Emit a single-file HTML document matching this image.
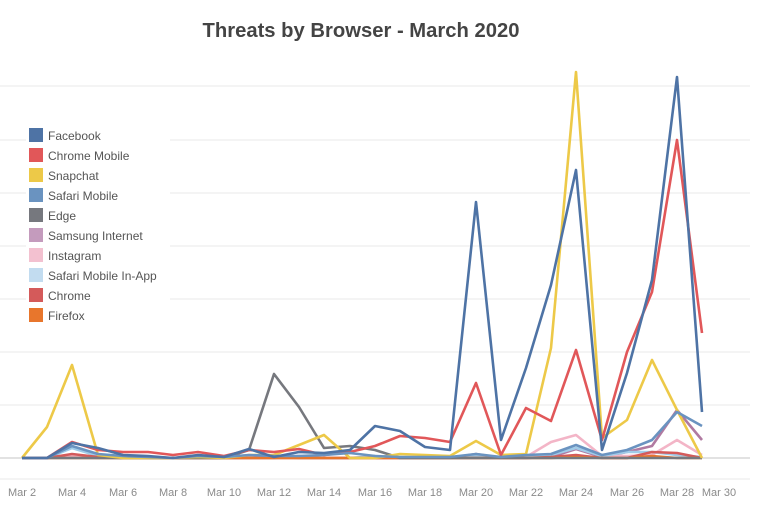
<!DOCTYPE html>
<html><head><meta charset="utf-8"><style>
html,body{margin:0;padding:0;background:#fff;}
svg{display:block;font-family:"Liberation Sans",sans-serif;}
</style></head><body>
<svg width="770" height="514" viewBox="0 0 770 514" xmlns="http://www.w3.org/2000/svg">
<rect width="770" height="514" fill="#fff"/>
<text x="361" y="37" text-anchor="middle" font-size="20" font-weight="bold" fill="#444" textLength="317" lengthAdjust="spacingAndGlyphs">Threats by Browser - March 2020</text>
<g stroke="#f0f0f0" stroke-width="1.5">
<line x1="0" x2="750" y1="86" y2="86"/><line x1="0" x2="750" y1="140" y2="140"/><line x1="0" x2="750" y1="193" y2="193"/><line x1="0" x2="750" y1="246" y2="246"/><line x1="0" x2="750" y1="299" y2="299"/><line x1="0" x2="750" y1="352" y2="352"/><line x1="0" x2="750" y1="405" y2="405"/><line x1="0" x2="750" y1="479" y2="479"/>
</g>
<line x1="0" x2="750" y1="458" y2="458" stroke="#d8d8d8" stroke-width="1.5"/>
<g fill="none" stroke-width="2.6" stroke-linejoin="round">
<polyline stroke="#b07aa1" points="22,458 47,458 72,455 98,457 123,458 148,458 173,458 198,458 224,458 249,458 274,457 299,458 324,458 350,458 375,458 400,458 425,458 450,458 476,454 501,458 526,458 551,457 576,449 602,457 627,452 652,446 677,410 702,440"/>
<polyline stroke="#f3b5c7" points="22,458 47,458 72,456 98,458 123,458 148,458 173,458 198,458 224,458 249,458 274,458 299,456 324,458 350,458 375,458 400,458 425,458 450,458 476,456 501,458 526,457 551,442 576,435 602,456 627,456 652,455 677,440 702,455"/>
<polyline stroke="#a0cbe8" points="22,458 47,458 72,448 98,456 123,458 148,458 173,458 198,458 224,458 249,458 274,458 299,456 324,458 350,458 375,456 400,458 425,458 450,458 476,456 501,458 526,457 551,455 576,448 602,456 627,452 652,452 677,455 702,457"/>
<polyline stroke="#d45a5a" points="22,458 47,458 72,454 98,457 123,458 148,458 173,458 198,458 224,458 249,458 274,458 299,458 324,458 350,458 375,458 400,458 425,458 450,458 476,458 501,458 526,458 551,457 576,455 602,458 627,458 652,452 677,453 702,458"/>
<polyline stroke="#e8762c" points="22,458 47,458 72,458 98,458 123,458 148,458 173,458 198,458 224,458 249,458 274,458 299,458 324,458 350,458 375,458 400,458 425,458 450,458 476,458 501,458 526,458 551,458 576,457 602,458 627,458 652,456 677,458 702,458"/>
<polyline stroke="#76787e" points="22,458 47,458 72,458 98,458 123,458 148,458 173,458 198,458 224,458 249,450 274,374 299,407 324,448 350,446 375,450 400,458 425,458 450,458 476,458 501,458 526,458 551,458 576,458 602,458 627,458 652,458 677,458 702,458"/>
<polyline stroke="#edc948" points="22,458 47,427 72,365 98,455 123,458 148,458 173,458 198,457 224,458 249,455 274,455 299,445 324,435 350,458 375,458 400,454 425,455 450,456 476,441 501,455 526,454 551,348 576,72 602,438 627,420 652,360 677,410 702,458"/>
<polyline stroke="#e15759" points="22,458 47,458 72,442 98,450 123,452 148,452 173,455 198,452 224,456 249,450 274,452 299,449 324,455 350,452 375,446 400,436 425,438 450,442 476,383 501,455 526,408 551,421 576,350 602,440 627,352 652,292 677,140 702,333"/>
<polyline stroke="#6a93c0" points="22,458 47,458 72,446 98,454 123,456 148,457 173,458 198,456 224,457 249,455 274,456 299,456 324,455 350,453 375,456 400,457 425,457 450,457 476,454 501,457 526,455 551,454 576,445 602,455 627,450 652,440 677,412 702,426"/>
<polyline stroke="#4e73a5" points="22,458 47,458 72,443 98,448 123,455 148,456 173,458 198,455 224,457 249,449 274,457 299,452 324,453 350,450 375,426 400,431 425,447 450,450 476,202 501,440 526,368 551,285 576,170 602,450 627,373 652,280 677,77 702,412"/>
</g>
<g font-size="11" fill="#8a8a8a" text-anchor="middle">
<text x="22" y="496">Mar 2</text><text x="72" y="496">Mar 4</text><text x="123" y="496">Mar 6</text><text x="173" y="496">Mar 8</text><text x="224" y="496">Mar 10</text><text x="274" y="496">Mar 12</text><text x="324" y="496">Mar 14</text><text x="375" y="496">Mar 16</text><text x="425" y="496">Mar 18</text><text x="476" y="496">Mar 20</text><text x="526" y="496">Mar 22</text><text x="576" y="496">Mar 24</text><text x="627" y="496">Mar 26</text><text x="677" y="496">Mar 28</text><text x="719" y="496">Mar 30</text>
</g>
<rect x="26" y="122" width="144" height="206" fill="#fff"/>
<g font-size="12" fill="#555">
<rect x="29" y="128" width="14" height="14" fill="#4e73a5"/><text x="48" y="140">Facebook</text>
<rect x="29" y="148" width="14" height="14" fill="#e15759"/><text x="48" y="160">Chrome Mobile</text>
<rect x="29" y="168" width="14" height="14" fill="#edc948"/><text x="48" y="180">Snapchat</text>
<rect x="29" y="188" width="14" height="14" fill="#6a93c0"/><text x="48" y="200">Safari Mobile</text>
<rect x="29" y="208" width="14" height="14" fill="#76787e"/><text x="48" y="220">Edge</text>
<rect x="29" y="228" width="14" height="14" fill="#c49bbd"/><text x="48" y="240">Samsung Internet</text>
<rect x="29" y="248" width="14" height="14" fill="#f3c1d0"/><text x="48" y="260">Instagram</text>
<rect x="29" y="268" width="14" height="14" fill="#c2dcf0"/><text x="48" y="280">Safari Mobile In-App</text>
<rect x="29" y="288" width="14" height="14" fill="#d45a5a"/><text x="48" y="300">Chrome</text>
<rect x="29" y="308" width="14" height="14" fill="#e8762c"/><text x="48" y="320">Firefox</text>
</g>
</svg>
</body></html>
